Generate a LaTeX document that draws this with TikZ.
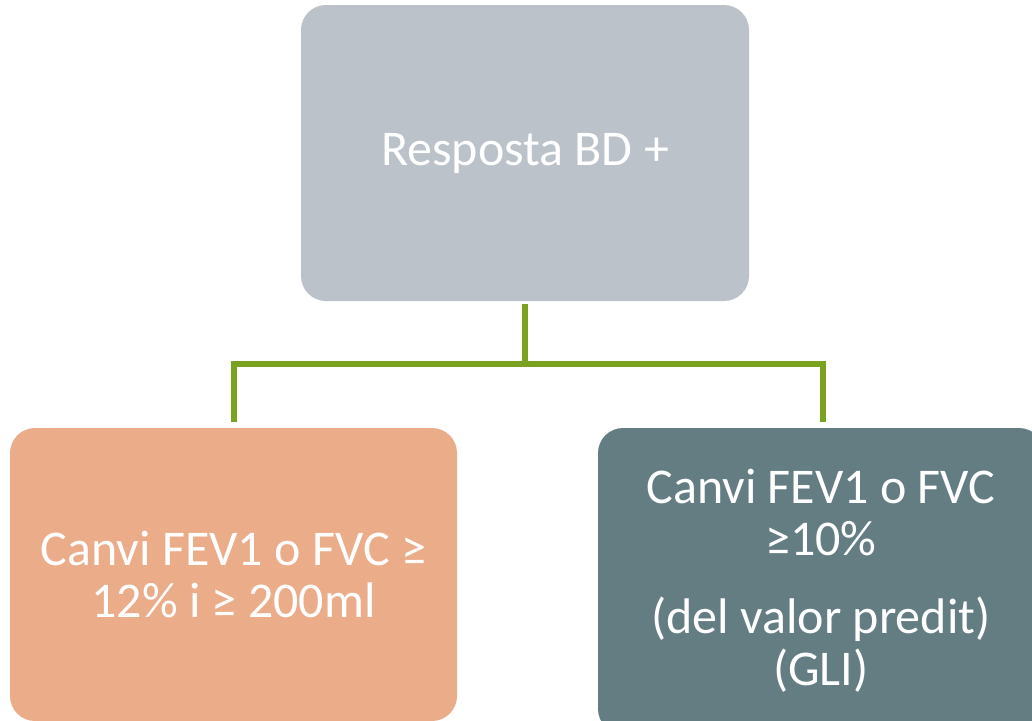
\documentclass[tikz,border=0pt]{standalone}
\usepackage{fontspec}
\setmainfont{Carlito}
\definecolor{topfill}{HTML}{BBC2C9}
\definecolor{leftfill}{HTML}{EBAC89}
\definecolor{rightfill}{HTML}{647D83}
\definecolor{conngreen}{HTML}{7AA11F}
\tikzset{
  box/.style={draw=none, rounded corners=25pt, text=white, align=center,
    font=\fontsize{50}{52}\selectfont, inner sep=0pt},
  conn/.style={draw=conngreen, line width=6pt, line join=miter, line cap=butt}
}
\begin{document}
\begin{tikzpicture}[x=1pt,y=-1pt]
\useasboundingbox (0,0) rectangle (1032,720);
\clip (0,0) rectangle (1032,720);
\node[box, fill=topfill, minimum width=448pt, minimum height=296pt] (top) at (525,153) {Resposta BD +};
\node[box, fill=leftfill, minimum width=447pt, minimum height=293pt] (left) at (233.5,574.5) {Canvi FEV1 o FVC ≥\\12\% i ≥ 200ml};
\node[box, fill=rightfill, minimum width=446pt, minimum height=306pt] (right) at (821,581) {Canvi FEV1 o FVC\\≥10\%\\[26pt](del valor predit)\\(GLI)};
\coordinate (j) at (525,364);
\draw[conn] ([yshift=-3pt]top.south) -- (j);
\draw[conn] ([xshift=0.5pt,yshift=6pt]left.north) |- (j);
\draw[conn] (j) -| ([xshift=1.5pt,yshift=6pt]right.north);
\end{tikzpicture}
\end{document}
